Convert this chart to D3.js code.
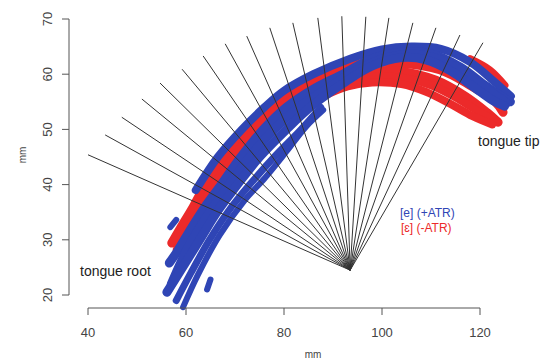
<!DOCTYPE html>
<html>
<head>
<meta charset="utf-8">
<script src="https://cdn.jsdelivr.net/npm/d3@7"></script>
<style>
  body { margin: 0; background: #fff; }
  svg { font-family: "Liberation Sans", Arial, sans-serif; }
</style>
</head>
<body>
<svg id="chart" width="550" height="360"></svg>
<script>
// axis ticks
const xTicks = [40, 60, 80, 100, 120];
const yTicks = [20, 30, 40, 50, 60, 70];

// radial measurement grid (mm)
const fanOrigin = [93.5, 24.5];
const fanEndX = [40.0, 43.5, 46.9, 51.0, 54.7, 59.2, 63.5, 68.0, 72.4, 77.1, 81.8, 86.9, 91.8, 96.7, 101.4, 106.3, 111.0, 115.9, 120.6];
const fanEndY = [45.4, 49.0, 52.2, 55.5, 58.4, 60.9, 63.3, 65.5, 66.9, 68.4, 69.3, 70.2, 70.5, 70.4, 70.2, 69.3, 68.4, 67.1, 65.7];

// [e] (+ATR) tongue contours, [x, y] in mm
const blueOuter = [[62.0,39.0],[66.5,45.0],[71.4,50.0],[76.0,54.0],[80.0,57.0],[86.0,60.0],[93.5,62.8],[100.0,64.5],[106.0,65.0],[112.0,64.6],[118.0,62.2],[123.0,58.6],[126.3,56.0]];
const blueCap = [[56.8,32.3],[58.0,33.6]];
const blueMid1 = [[56.6,25.8],[58.3,28.0],[61.0,32.0],[63.9,36.0],[67.2,40.0],[71.2,45.0],[75.8,50.0],[80.5,54.0],[86.0,57.3],[92.0,60.0],[98.0,62.8],[104.0,64.0],[110.0,63.7],[116.0,61.3],[121.0,58.0],[124.5,55.9],[126.2,55.0]];
const blueMid2 = [[57.0,22.0],[59.0,26.0],[61.3,30.0],[64.8,35.0],[68.8,40.0],[73.0,45.0],[78.0,50.0],[83.0,54.0],[89.0,57.5],[95.0,60.8],[101.0,63.0],[107.0,63.6],[112.5,62.4],[118.0,59.6],[122.5,56.6],[125.5,54.8]];
const blueInner = [[56.1,20.5],[59.3,25.0],[62.8,30.0],[66.3,35.0],[70.5,40.0],[75.0,45.0],[80.5,50.0],[86.0,54.5],[92.5,58.6],[98.0,61.5],[104.0,63.0],[109.0,62.6],[114.0,60.6],[119.0,57.5],[122.5,55.3],[125.0,54.2]];
const blueLow1 = [[58.0,19.0],[61.0,24.0],[64.8,30.0],[68.5,35.0],[73.0,40.0],[78.0,45.0],[83.5,50.0],[87.5,54.0]];
const blueLow2 = [[59.4,17.8],[62.4,23.6],[66.9,30.9],[72.0,37.2],[76.1,41.2],[80.5,46.0],[84.5,50.5],[88.0,53.5]];
const blueSpot = [[64.3,21.0],[65.0,22.8]];

// [ɛ] (-ATR) tongue contours
const redOuter = [[57.1,29.4],[58.8,32.0],[61.5,36.0],[64.0,40.0],[68.3,45.0],[72.8,50.0],[77.5,54.0],[82.0,57.0],[88.0,59.6],[95.5,61.9],[103.7,62.0],[111.8,60.8],[118.0,58.0],[123.1,55.0],[124.7,53.1]];
const redMid = [[58.2,28.2],[60.0,31.0],[62.6,35.0],[65.8,40.0],[69.8,45.0],[74.2,50.0],[80.3,54.6],[88.0,58.0],[95.5,60.2],[103.7,60.5],[111.0,58.9],[117.0,56.0],[121.5,53.0],[123.7,51.3]];
const redMid2 = [[85.0,56.0],[90.0,58.0],[95.5,59.3],[103.7,59.4],[110.0,58.0],[116.0,55.3],[120.5,52.8],[123.5,51.5]];
const redInner = [[83.0,53.5],[88.0,56.0],[93.0,57.8],[98.0,58.5],[104.0,58.2],[109.0,56.8],[114.0,54.6],[118.5,52.4],[122.5,50.9]];
const redTipTop = [[118.0,62.8],[122.0,60.8],[125.1,58.0]];

const blueCol = "#2f45b5";
const redCol = "#ec2a2a";

const redTraces = [
  { pts: redOuter, w: 9 },
  { pts: redMid, w: 9 },
  { pts: redMid2, w: 8 },
  { pts: redInner, w: 8 },
  { pts: redTipTop, w: 7 }
];
const blueTraces = [
  { pts: blueOuter, w: 8 },
  { pts: blueCap, w: 6 },
  { pts: blueMid1, w: 9 },
  { pts: blueMid2, w: 9 },
  { pts: blueInner, w: 9 },
  { pts: blueLow1, w: 7 },
  { pts: blueLow2, w: 6 },
  { pts: blueSpot, w: 6 }
];

const svg = d3.select("#chart");
const x = d3.scaleLinear().domain([40, 120]).range([88, 480]);
const y = d3.scaleLinear().domain([20, 70]).range([295, 19]);

const line = d3.line()
  .x(d => x(d[0]))
  .y(d => y(d[1]))
  .curve(d3.curveCatmullRom);

function drawTraces(traces, col) {
  svg.append("g")
    .selectAll("path")
    .data(traces)
    .join("path")
    .attr("d", d => line(d.pts))
    .attr("fill", "none")
    .attr("stroke", col)
    .attr("stroke-width", d => d.w)
    .attr("stroke-linecap", "round")
    .attr("stroke-linejoin", "round");
}

// contours: red first, blue over it
drawTraces(redTraces, redCol);
drawTraces(blueTraces, blueCol);

// fan lines on top
svg.append("g")
  .selectAll("line")
  .data(d3.range(fanEndX.length))
  .join("line")
  .attr("x1", x(fanOrigin[0]))
  .attr("y1", y(fanOrigin[1]))
  .attr("x2", i => x(fanEndX[i]))
  .attr("y2", i => y(fanEndY[i]))
  .attr("stroke", "#333")
  .attr("stroke-width", 1);

// axes, R style
const axisCol = "#555";
const xAxis = svg.append("g").attr("transform", "translate(0,308)");
xAxis.append("line")
  .attr("x1", x(40)).attr("x2", x(120))
  .attr("stroke", axisCol);
xAxis.selectAll("g")
  .data(xTicks)
  .join("g")
  .attr("transform", d => `translate(${x(d)},0)`)
  .call(g => g.append("line").attr("y2", 7).attr("stroke", axisCol))
  .call(g => g.append("text")
    .attr("y", 29)
    .attr("text-anchor", "middle")
    .attr("font-size", 13)
    .attr("fill", "#444")
    .text(d => d));

const yAxis = svg.append("g").attr("transform", "translate(69,0)");
yAxis.append("line")
  .attr("y1", y(20)).attr("y2", y(70))
  .attr("stroke", axisCol);
yAxis.selectAll("g")
  .data(yTicks)
  .join("g")
  .attr("transform", d => `translate(0,${y(d)})`)
  .call(g => g.append("line").attr("x2", -7).attr("stroke", axisCol))
  .call(g => g.append("text")
    .attr("transform", "translate(-17,0) rotate(-90)")
    .attr("text-anchor", "middle")
    .attr("font-size", 13)
    .attr("fill", "#444")
    .text(d => d));

svg.append("text")
  .attr("x", 313).attr("y", 358)
  .attr("text-anchor", "middle")
  .attr("font-size", 10)
  .attr("fill", "#444")
  .text("mm");

svg.append("text")
  .attr("transform", "translate(26,155) rotate(-90)")
  .attr("text-anchor", "middle")
  .attr("font-size", 10)
  .attr("fill", "#444")
  .text("mm");

// annotations
svg.append("text")
  .attr("x", 80).attr("y", 276)
  .attr("font-size", 14)
  .attr("fill", "#222")
  .text("tongue root");

svg.append("text")
  .attr("x", 478).attr("y", 146)
  .attr("font-size", 14)
  .attr("fill", "#222")
  .text("tongue tip");

svg.append("text")
  .attr("x", 400).attr("y", 217)
  .attr("font-size", 12)
  .attr("fill", blueCol)
  .text("[e] (+ATR)");

svg.append("text")
  .attr("x", 401).attr("y", 232)
  .attr("font-size", 12)
  .attr("fill", redCol)
  .text("[ɛ] (-ATR)");
</script>
</body>
</html>
